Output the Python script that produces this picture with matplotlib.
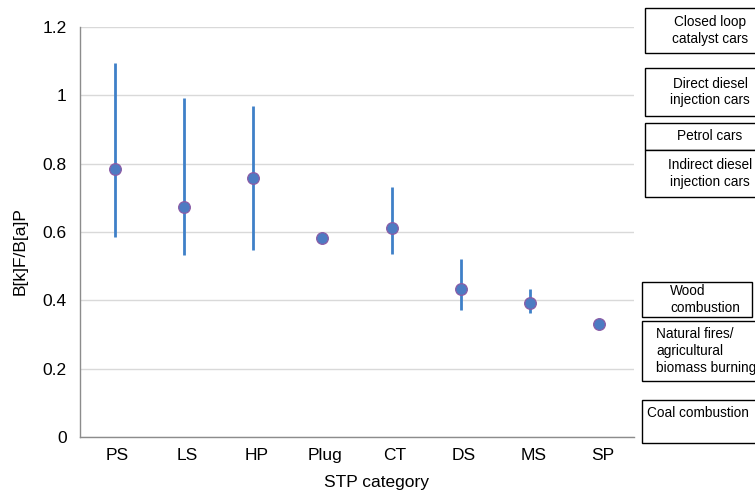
import matplotlib
matplotlib.use("Agg")
import matplotlib.pyplot as plt
from matplotlib.patches import Rectangle
from matplotlib.transforms import ScaledTranslation

plt.rcParams['font.family'] = ['Liberation Sans', 'DejaVu Sans']

categories = ["PS", "LS", "HP", "Plug", "CT", "DS", "MS", "SP"]
means = [0.785, 0.672, 0.757, 0.582, 0.612, 0.432, 0.392, 0.331]
lows = [0.584, 0.534, 0.546, 0.582, 0.535, 0.373, 0.363, 0.331]
highs = [1.094, 0.993, 0.970, 0.582, 0.732, 0.521, 0.432, 0.331]

yticks = [0, 0.2, 0.4, 0.6, 0.8, 1.0, 1.2]
ytick_labels = ["0", "0.2", "0.4", "0.6", "0.8", "1", "1.2"]

source_labels = ["Closed loop\ncatalyst cars", "Direct diesel\ninjection cars", "Petrol cars",
                 "Indirect diesel\ninjection cars", "Wood\ncombustion",
                 "Natural fires/\nagricultural\nbiomass burning", "Coal combustion\n "]

W, H = 755, 493
fig = plt.figure(figsize=(W / 100, H / 100), dpi=100)
ax = fig.add_axes([80 / W, 1 - 437 / H, (634 - 80) / W, (437 - 27) / H])

x = list(range(1, len(categories) + 1))
for xi, lo, hi in zip(x, lows, highs):
    if hi > lo:
        ax.plot([xi, xi], [lo, hi], color="#3f80c8", lw=2.0, solid_capstyle="butt", zorder=2)
ax.plot(x, means, linestyle="none", marker="o", markersize=8.4,
        markerfacecolor="#4d7bc2", markeredgecolor="#8a5ca6", markeredgewidth=0.9, zorder=3)

ax.set_xlim(0.5, len(categories) + 0.5)
ax.set_ylim(0, 1.2)
ax.set_xticks(x)
ax.set_xticklabels(categories, fontsize=12.5)
ax.set_yticks(yticks)
ax.set_yticklabels(ytick_labels, fontsize=12.5)
ax.tick_params(axis="both", length=0)
ax.tick_params(axis="y", pad=9.5)
ax.tick_params(axis="x", pad=8)
shift = ScaledTranslation(3 / 100, 0, fig.dpi_scale_trans)
for lbl in ax.get_xticklabels():
    lbl.set_transform(lbl.get_transform() + shift)
ax.yaxis.grid(True, color="#d9d9d9", lw=1.0)
ax.set_axisbelow(True)
for s in ["top", "right"]:
    ax.spines[s].set_visible(False)
for s in ["left", "bottom"]:
    ax.spines[s].set_color("#8c8c8c")
    ax.spines[s].set_linewidth(1.0)

fig.text(376 / W, 1 - 483 / H, "STP category", fontsize=12.5, ha="center", va="center")
fig.text(20 / W, 1 - 251 / H, "B[k]F/B[a]P", fontsize=12.5, ha="center", va="center",
         rotation=90)

# Source boxes on the right (figure pixel coordinates: x0, y_top, y_bottom)
boxes = [
    (645, 8, 53, "center", 710),
    (645, 68, 116, "center", 710),
    (645, 123, 150, "center", 710),
    (645, 150, 197, "center", 710),
    (642, 282, 317, "left", 670),
    (642, 321, 381, "left", 656),
    (642, 400, 443, "left", 647),
]
for (x0, yt, yb, ha, tx), lab in zip(boxes, source_labels):
    width = 110 if x0 == 642 and yt == 282 else 140
    rect = Rectangle((x0 / W, 1 - yb / H), width / W, (yb - yt) / H,
                     transform=fig.transFigure, fill=True, facecolor="white",
                     edgecolor="black", lw=1.0)
    fig.patches.append(rect)
    fig.text(tx / W, 1 - (yt + yb) / 2 / H, lab, ha=ha, va="center",
             fontsize=9.8, linespacing=1.25, multialignment=ha)

fig.savefig("out.png", dpi=100)
